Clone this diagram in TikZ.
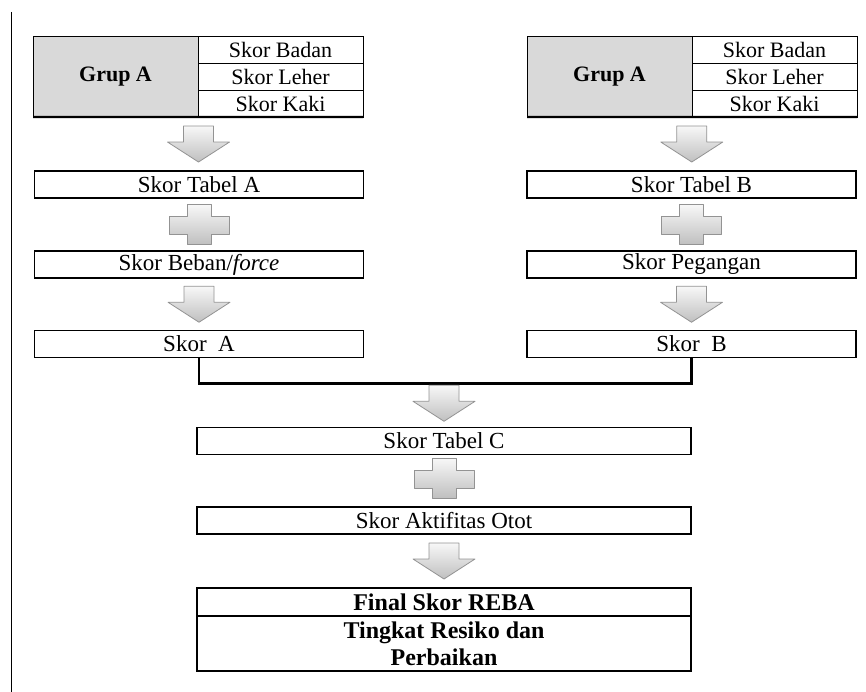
\documentclass[tikz,border=0pt]{standalone}
\usepackage{fontspec}
\setmainfont{Liberation Serif}
\usetikzlibrary{calc}

\tikzset{
  txt/.style={font=\fontsize{23}{27}\selectfont},
  cellbox/.style={draw, line width=1pt, inner sep=0pt, outer sep=0pt,
    font=\fontsize{22}{26}\selectfont,
    minimum width=165pt, minimum height=26.7pt},
  grupbox/.style={cellbox, fill=gray!30, minimum height=80pt,
    font=\fontsize{22}{26}\selectfont\bfseries},
  skorbox/.style={draw, line width=1.2pt, txt, inner sep=0pt, outer sep=0pt,
    minimum width=329pt, minimum height=27pt},
  widebox/.style={skorbox, minimum width=494pt},
  finalbox/.style={widebox, line width=2.4pt, align=center,
    font=\fontsize{24}{27}\selectfont\bfseries},
  joinline/.style={line width=2.4pt},
  blockfill/.style={draw=gray!85, line width=0.8pt, line join=round,
    top color=gray!6, bottom color=gray!50},
  pics/blockarrow/.style={code={
    \path[blockfill] (-15,-18) -- (15,-18) -- (15,-2) -- (31,-2) -- (0,18)
      -- (-31,-2) -- (-15,-2) -- cycle;
  }},
  pics/plussign/.style={code={
    \path[blockfill] (-12,-20) -- (12,-20) -- (12,-8) -- (30,-8) -- (30,10)
      -- (12,10) -- (12,20) -- (-12,20) -- (-12,10) -- (-30,10) -- (-30,-8)
      -- (-12,-8) -- cycle;
  }}
}

\begin{document}
\begin{tikzpicture}[x=1pt, y=-1pt]
	\useasboundingbox (0,0) rectangle (866,692);
	% margin rule
	\draw[line width=1.5pt] (11.5,12) -- (11.5,692);

	% left group
	\node[grupbox] (grupL) at (115.5,77) {Grup A};
	\node[cellbox] (badanL) at (280.5,50.3) {Skor Badan};
	\node[cellbox] (leherL) at (280.5,77) {Skor Leher};
	\node[cellbox] (kakiL) at (280.5,103.7) {Skor Kaki};
	\draw[line width=2.2pt] (grupL.south west) -- (kakiL.south east);

	% right group
	\node[grupbox] (grupR) at (609.5,77) {Grup A};
	\node[cellbox] (badanR) at (774.5,50.3) {Skor Badan};
	\node[cellbox] (leherR) at (774.5,77) {Skor Leher};
	\node[cellbox] (kakiR) at (774.5,103.7) {Skor Kaki};
	\draw[line width=2.2pt] (grupR.south west) -- (kakiR.south east);

	% left column
	\node[skorbox] (tabelA) at (199,184.5) {Skor Tabel A};
	\node[skorbox] (beban) at (199,264.5) {Skor Beban/\textit{force}};
	\node[skorbox, line width=1.8pt] (skorA) at (199,344) {Skor~ A};

	% right column
	\node[skorbox] (tabelB) at (691.5,184.5) {Skor Tabel B};
	\node[skorbox] (pegangan) at (691.5,264.5) {Skor Pegangan};
	\node[skorbox, line width=1.8pt] (skorB) at (691.5,344) {Skor~ B};

	% bottom column
	\node[widebox] (tabelC) at (444,441) {Skor Tabel C};
	\node[widebox] (otot) at (444,520.5) {Skor Aktifitas Otot};
	\node[finalbox, minimum height=28pt] (final) at (444,602) {Final Skor REBA};
	\node[finalbox, minimum height=55pt, anchor=north] (resiko) at (final.south)
		{Tingkat Resiko dan\\Perbaikan};

	% join of A and B
	\draw[joinline] (skorA.south) -- ++(0,26) coordinate (join) -| (skorB.south);

	% block arrows and plus signs
	\pic at ($(badanL.south west |- kakiL.south)!0.5!(tabelA.north)$) {blockarrow};
	\pic at ($(tabelA.south)!0.5!(beban.north)$) {plussign};
	\pic at ($(beban.south)!0.5!(skorA.north)$) {blockarrow};
	\pic at ($(badanR.south west |- kakiR.south)!0.5!(tabelB.north)$) {blockarrow};
	\pic at ($(tabelB.south)!0.5!(pegangan.north)$) {plussign};
	\pic at ($(pegangan.south)!0.5!(skorB.north)$) {blockarrow};
	\pic at ($(tabelC.north |- join)!0.45!(tabelC.north)$) {blockarrow};
	\pic at ($(tabelC.south)!0.45!(otot.north)$) {plussign};
	\pic at ($(otot.south)!0.5!(final.north)$) {blockarrow};
\end{tikzpicture}
\end{document}
